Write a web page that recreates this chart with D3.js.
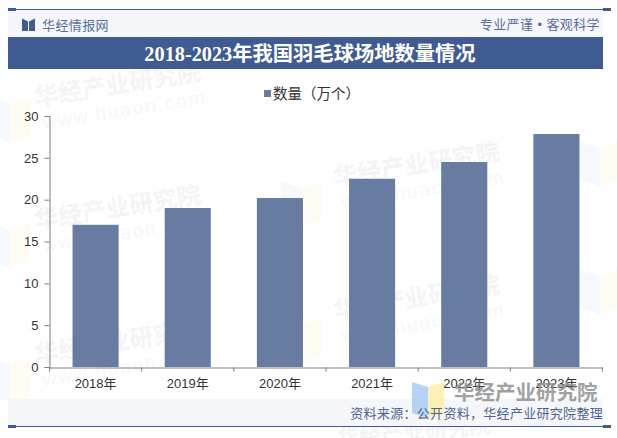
<!DOCTYPE html>
<html>
<head>
<meta charset="utf-8">
<script src="https://cdn.jsdelivr.net/npm/d3@7"></script>
<style>
  html, body { margin: 0; padding: 0; background: #fff; }
  svg { display: block; }
  text { font-family: "Liberation Sans", "Noto Sans CJK SC", sans-serif; }
</style>
</head>
<body>
<script>
// chart data
var years = ["2018年", "2019年", "2020年", "2021年", "2022年", "2023年"];
var counts = [17, 19, 20.2, 22.5, 24.5, 27.85];
var yTicks = [0, 5, 10, 15, 20, 25, 30];
var titleText = "2018-2023年我国羽毛球场地数量情况";
var legendText = "数量（万个）";
var sourceText = "资料来源：公开资料，华经产业研究院整理";

var width = 617, height = 438;
var navy = "#3f5b92", barColor = "#687ba0", axisColor = "#7f7f7f", labelColor = "#333";

var svg = d3.select("body").append("svg")
    .attr("width", width)
    .attr("height", height);

// faint watermarks go first so everything sits on top of them
var wmSpots = [[36, 106], [335, 186], [36, 229], [335, 319], [36, 363]];
var wm = svg.append("g").selectAll("g").data(wmSpots).enter().append("g")
    .attr("transform", function (d) { return "translate(" + d[0] + "," + d[1] + ") rotate(-9)"; });
wm.append("text")
    .attr("font-size", 24).attr("font-weight", "bold")
    .attr("fill", "#f4f4f4")
    .text("华经产业研究院");
wm.append("text")
    .attr("x", 4).attr("y", 24)
    .attr("font-size", 19).attr("letter-spacing", 2)
    .attr("fill", "#f7f7f7")
    .text("www.huaon.com");

// last one runs off the bottom of the page
svg.append("text")
    .attr("transform", "translate(338,446) rotate(-5)")
    .attr("font-size", 22).attr("font-weight", "bold")
    .attr("fill", "#f4f4f4")
    .text("华经产业研究院");

var ghostSpots = [[-10, 98], [-10, 224], [-10, 358], [281, 182], [281, 318], [580, 142], [580, 270]];
var ghosts = svg.append("g").selectAll("g").data(ghostSpots).enter().append("g")
    .attr("transform", function (d) { return "translate(" + d[0] + "," + d[1] + ")"; });
ghosts.append("path").attr("d", "M0,0L20,6V44L0,38Z").attr("fill", "#f5f8fd");
ghosts.append("path").attr("d", "M20,6L40,0V38L20,44Z").attr("fill", "#fffcf3");

// header + footer frame
svg.append("rect").attr("x", 8).attr("y", 10).attr("width", 595).attr("height", 27).attr("fill", "#f4f6fa");
svg.append("rect").attr("x", 8).attr("y", 37).attr("width", 595).attr("height", 32).attr("fill", navy);
svg.append("rect").attr("x", 8).attr("y", 399).attr("width", 595).attr("height", 27).attr("fill", "#f4f6fa");

[9.5, 426.5].forEach(function (y) {
    svg.append("line").attr("x1", 8).attr("x2", 611).attr("y1", y).attr("y2", y)
        .attr("stroke", navy).attr("stroke-width", 1);
    svg.append("rect").attr("x", 8).attr("y", y - 1.5).attr("width", 8).attr("height", 3).attr("fill", navy);
    svg.append("rect").attr("x", 603).attr("y", y - 1.5).attr("width", 8).attr("height", 3).attr("fill", navy);
});

// little book logo in the header
svg.append("path").attr("d", "M22,18.5L28,21.5V31L22,31Z").attr("fill", navy);
svg.append("path").attr("d", "M35,18.5L29,21.5V31L35,31Z").attr("fill", navy);

svg.append("text")
    .attr("x", 42).attr("y", 30)
    .attr("font-size", 13).attr("letter-spacing", 0.4)
    .attr("fill", "#5b6f98")
    .text("华经情报网");

svg.append("text")
    .attr("x", 600).attr("y", 29)
    .attr("text-anchor", "end")
    .attr("font-size", 13).attr("letter-spacing", 0.4)
    .attr("fill", "#5b6f98")
    .text("专业严谨 • 客观科学");

svg.append("text")
    .attr("x", 310).attr("y", 61)
    .attr("text-anchor", "middle")
    .attr("font-size", 20.3).attr("font-weight", "bold")
    .attr("fill", "#fff")
    .style("font-family", '"Liberation Serif", "Noto Sans CJK SC", serif')
    .text(titleText);

// scales
var x = d3.scaleBand().domain(years).range([49.5, 602.5]).paddingInner(0.5).paddingOuter(0.25);
var y = d3.scaleLinear().domain([0, 30]).range([367, 116]);

// bars
svg.append("g").selectAll("rect").data(counts).enter().append("rect")
    .attr("x", function (d, i) { return x(years[i]); })
    .attr("y", function (d) { return y(d); })
    .attr("width", x.bandwidth())
    .attr("height", function (d) { return y(0) - y(d); })
    .attr("fill", barColor);

// axes
var yAxis = svg.append("g")
    .attr("transform", "translate(49.5,0)")
    .call(d3.axisLeft(y).tickValues(yTicks).tickSize(5).tickPadding(6));
var xAxis = svg.append("g")
    .attr("transform", "translate(0,367.5)")
    .call(d3.axisBottom(x).tickSize(0).tickPadding(11));

// ticks sit on the band edges, not the centres
xAxis.selectAll(".edge").data(d3.range(years.length + 1)).enter().append("line")
    .attr("class", "edge")
    .attr("x1", function (d) { return 49.5 + d * x.step(); })
    .attr("x2", function (d) { return 49.5 + d * x.step(); })
    .attr("y1", 0).attr("y2", 4)
    .attr("stroke", axisColor);

[xAxis, yAxis].forEach(function (a) {
    a.select(".domain").attr("stroke", axisColor);
    a.selectAll(".tick line").attr("stroke", axisColor);
    a.selectAll("text")
        .attr("fill", labelColor)
        .attr("font-size", 13)
        .style("font-family", '"Liberation Sans", "Noto Sans CJK SC", sans-serif');
});

// legend
svg.append("rect").attr("x", 264).attr("y", 90).attr("width", 7).attr("height", 7).attr("fill", barColor);
svg.append("text")
    .attr("x", 273).attr("y", 99)
    .attr("font-size", 14.5)
    .attr("fill", labelColor)
    .text(legendText);

// stronger watermark bottom right, lies over the axis labels
var logo = svg.append("g").attr("transform", "translate(412,382)");
logo.append("path").attr("d", "M0,0L16,5V36L0,31Z").attr("fill", "#a9cbf5").attr("opacity", 0.85);
logo.append("path").attr("d", "M16,5L32,0V31L16,36Z").attr("fill", "#fdeeaa").attr("opacity", 0.85);
svg.append("text")
    .attr("x", 454).attr("y", 400)
    .attr("font-size", 20.5).attr("font-weight", "bold")
    .attr("fill", "#8a8a8a").attr("opacity", 0.8)
    .text("华经产业研究院");

// source line
svg.append("text")
    .attr("x", 603).attr("y", 418)
    .attr("text-anchor", "end")
    .attr("font-size", 13).attr("letter-spacing", 0.3)
    .attr("fill", "#4f658f")
    .text(sourceText);
</script>
</body>
</html>
